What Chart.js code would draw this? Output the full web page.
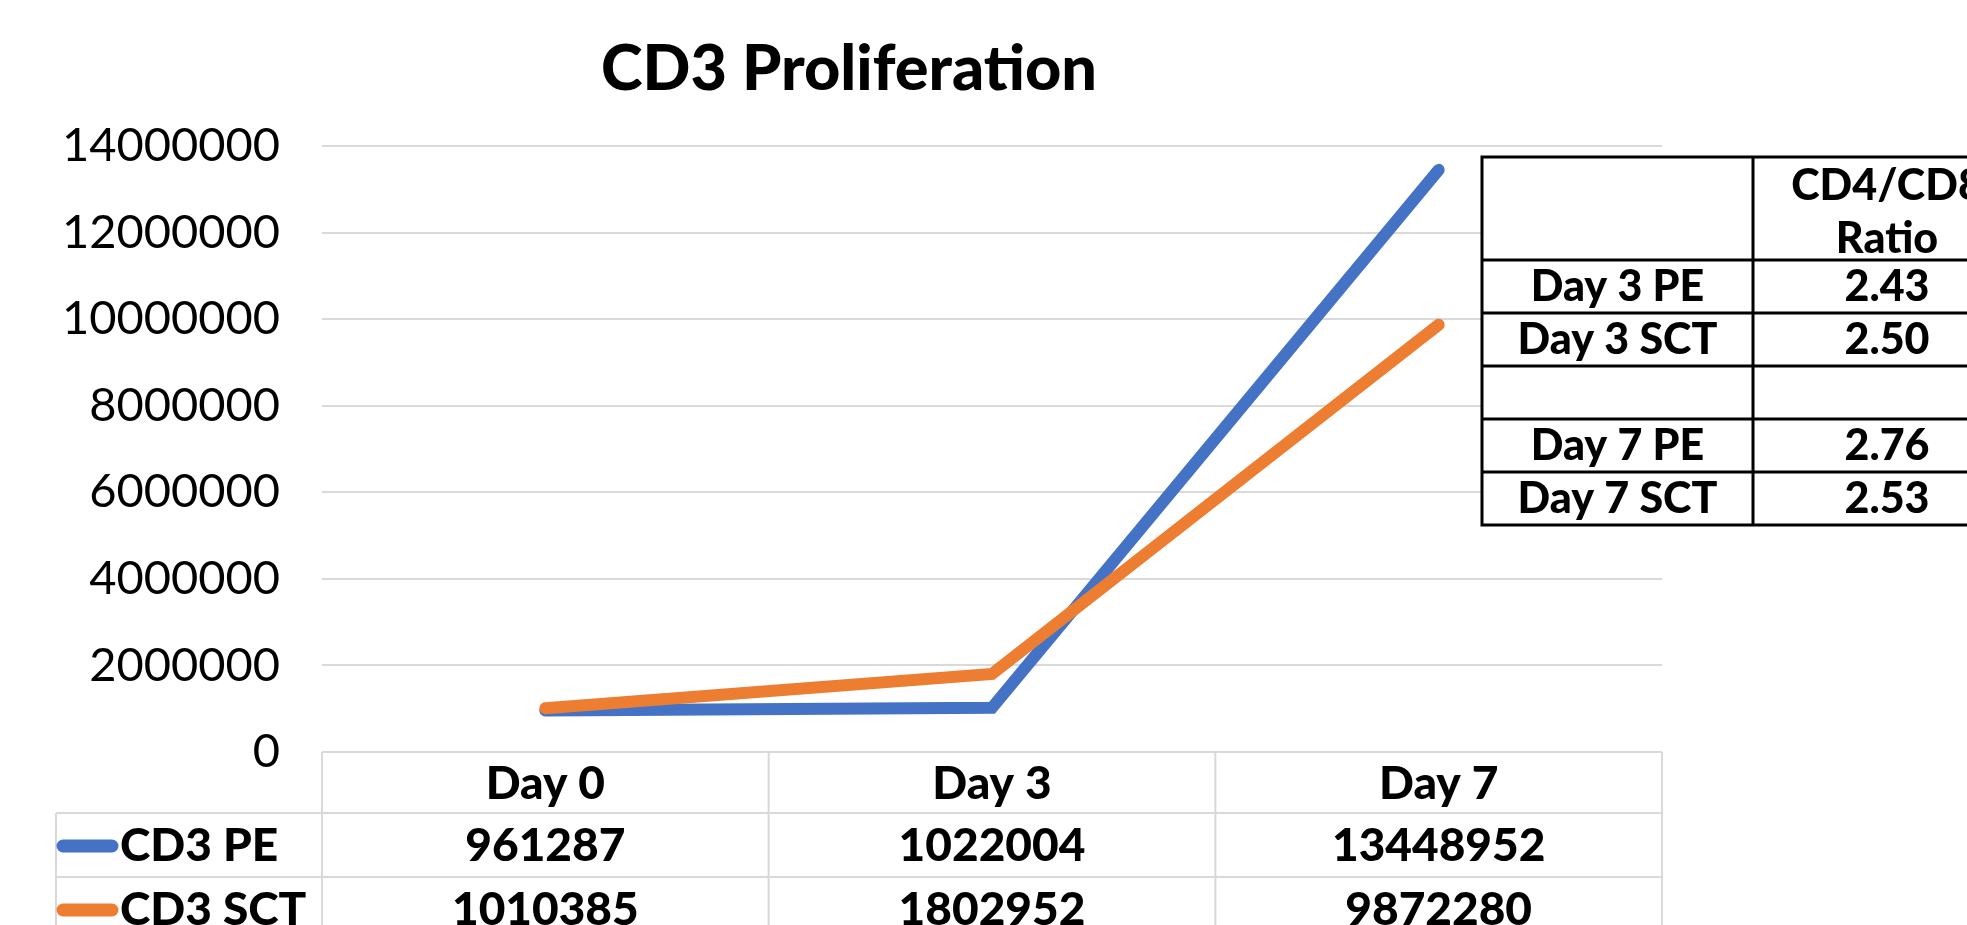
<!DOCTYPE html>
<html><head><meta charset="utf-8">
<script src="https://cdn.jsdelivr.net/npm/chart.js@4"></script>
<style>html,body{margin:0;padding:0;background:#fff;overflow:hidden}canvas{display:block}</style>
</head><body>
<canvas id="c" width="1967" height="925"></canvas>
<script>
const chartTitle = 'CD3 Proliferation';
const categories = ['Day 0', 'Day 3', 'Day 7'];
const seriesNames = ['CD3 PE', 'CD3 SCT'];
const cd3PE = [961287, 1022004, 13448952];
const cd3SCT = [1010385, 1802952, 9872280];
const yTickValues = [0, 2000000, 4000000, 6000000, 8000000, 10000000, 12000000, 14000000];
const ratioHeader = ['CD4/CD8', 'Ratio'];
const ratioLabels = ['Day 3 PE', 'Day 3 SCT', '', 'Day 7 PE', 'Day 7 SCT'];
const ratioValues = ['2.43', '2.50', '', '2.76', '2.53'];

const FONT = 'Lato, "Noto Sans", sans-serif';
const BLUE = '#4472C4', ORANGE = '#ED7D31';
const seriesColors = [BLUE, ORANGE];
const seriesData = [cd3PE, cd3SCT];

const tablePlugin = {
  id: 'tables',
  afterDraw(chart) {
    const ctx = chart.ctx;
    const xs = chart.scales.x;
    const area = chart.chartArea;
    const half = (xs.getPixelForValue(1) - xs.getPixelForValue(0)) / 2;
    ctx.save();
    // Title
    ctx.fillStyle = '#000';
    ctx.font = '900 63px ' + FONT;
    ctx.textAlign = 'center';
    ctx.textBaseline = 'middle';
    ctx.fillText(chartTitle, 849, 70);

    // Bottom data table
    const legendLeft = 56;
    const rowY = [area.bottom, area.bottom + 61, area.bottom + 125, area.bottom + 189];
    ctx.strokeStyle = '#d9d9d9';
    ctx.lineWidth = 2;
    ctx.beginPath();
    ctx.moveTo(area.left, rowY[0]); ctx.lineTo(area.right, rowY[0]);
    for (let r = 1; r < rowY.length; r++) {
      ctx.moveTo(legendLeft, rowY[r]); ctx.lineTo(area.right, rowY[r]);
    }
    for (let i = 0; i <= categories.length; i++) {
      const x = i < categories.length ? xs.getPixelForValue(i) - half : xs.getPixelForValue(i - 1) + half;
      ctx.moveTo(x, rowY[0]); ctx.lineTo(x, chart.height);
    }
    ctx.moveTo(legendLeft, rowY[1]); ctx.lineTo(legendLeft, chart.height);
    ctx.stroke();

    ctx.fillStyle = '#000';
    ctx.font = '900 46px ' + FONT;
    ctx.textAlign = 'center';
    categories.forEach((c, i) => {
      ctx.fillText(c, xs.getPixelForValue(i), (rowY[0] + rowY[1]) / 2 + 2);
    });
    seriesNames.forEach((name, s) => {
      const cy = (rowY[s + 1] + rowY[s + 2]) / 2 + 1;
      ctx.strokeStyle = seriesColors[s];
      ctx.lineWidth = 13;
      ctx.lineCap = 'round';
      ctx.beginPath();
      ctx.moveTo(legendLeft + 7, cy); ctx.lineTo(legendLeft + 56, cy);
      ctx.stroke();
      ctx.fillStyle = '#000';
      ctx.textAlign = 'left';
      ctx.fillText(name, 120, cy);
      ctx.textAlign = 'center';
      seriesData[s].forEach((v, i) => {
        ctx.fillText(String(v), xs.getPixelForValue(i), cy);
      });
    });

    // Right ratio table
    const tx0 = 1482, tx1 = 1753, tx2 = 2030;
    const ty = [157, 260, 313, 366, 419, 472, 525];
    ctx.fillStyle = '#fff';
    ctx.fillRect(tx0, ty[0], tx2 - tx0, ty[ty.length - 1] - ty[0]);
    ctx.strokeStyle = '#000';
    ctx.lineWidth = 3;
    ctx.lineCap = 'butt';
    ctx.beginPath();
    ty.forEach(y => { ctx.moveTo(tx0 - 1.5, y); ctx.lineTo(tx2, y); });
    [tx0, tx1].forEach(x => { ctx.moveTo(x, ty[0]); ctx.lineTo(x, ty[ty.length - 1]); });
    ctx.stroke();
    ctx.fillStyle = '#000';
    ctx.font = '900 43px ' + FONT;
    ctx.textAlign = 'center';
    const cx1 = (tx0 + tx1) / 2, cx2 = 1887;
    ctx.fillText(ratioHeader[0], cx2, 186);
    ctx.fillText(ratioHeader[1], cx2, 239);
    ratioLabels.forEach((lab, r) => {
      const cy = (ty[r + 1] + ty[r + 2]) / 2 + 1;
      if (lab) ctx.fillText(lab, cx1, cy);
      if (ratioValues[r]) ctx.fillText(ratioValues[r], cx2, cy);
    });
    ctx.restore();
  }
};

new Chart(document.getElementById('c'), {
  type: 'line',
  data: {
    labels: categories,
    datasets: [
      { label: seriesNames[0], data: cd3PE, borderColor: BLUE, backgroundColor: BLUE,
        borderWidth: 12, pointRadius: 0, borderCapStyle: 'round', borderJoinStyle: 'miter', order: 1 },
      { label: seriesNames[1], data: cd3SCT, borderColor: ORANGE, backgroundColor: ORANGE,
        borderWidth: 12, pointRadius: 0, borderCapStyle: 'round', borderJoinStyle: 'miter', order: 0 }
    ]
  },
  options: {
    responsive: false,
    animation: false,
    layout: { padding: { top: 146, bottom: 173, left: 0, right: 305 } },
    plugins: { legend: { display: false }, title: { display: false }, tooltip: { enabled: false } },
    scales: {
      x: { display: false, offset: true },
      y: {
        min: 0, max: 14000000,
        afterFit: (scale) => { scale.width = 322; },
        afterBuildTicks: (scale) => { scale.ticks = yTickValues.map(v => ({ value: v })); },
        border: { display: false },
        grid: { color: '#d9d9d9', lineWidth: 2, drawTicks: false },
        ticks: { padding: 42, color: '#000', font: { family: FONT, size: 47 }, callback: (v) => String(v) }
      }
    }
  },
  plugins: [tablePlugin]
});
</script>
</body></html>
